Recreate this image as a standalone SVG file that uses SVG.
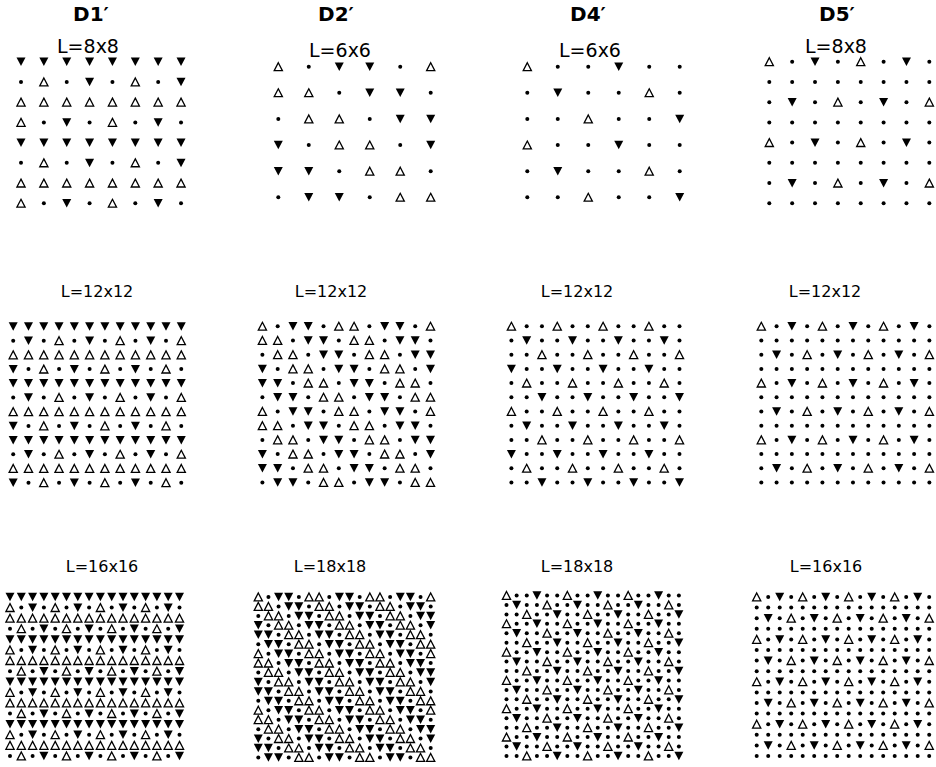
<svg xmlns="http://www.w3.org/2000/svg" xmlns:xlink="http://www.w3.org/1999/xlink" width="936" height="767" viewBox="0 0 936 767">
<style>
.ttl{font-family:"DejaVu Sans","Liberation Sans",sans-serif;font-weight:bold;font-size:20px;text-anchor:middle;fill:#000}
.lbl{font-family:"DejaVu Sans","Liberation Sans",sans-serif;font-size:19px;text-anchor:middle;fill:#000}
.lbl2{font-family:"DejaVu Sans","Liberation Sans",sans-serif;font-size:16px;text-anchor:middle;fill:#000}
.o{fill:none;stroke:#000;stroke-width:1.3;stroke-linejoin:miter}
</style>
<defs>
<path id="v" d="M-4.5-4.2H4.5L0 4.3Z" fill="#000"/>
<path id="a" class="o" d="M0-4L4.1 3.9H-4.1Z"/>
<circle id="d" r="2" fill="#000"/>
<!-- D1' 8x8 rows -->
<g id="g1a"><use href="#v"/><use href="#v" x="22.86"/><use href="#v" x="45.72"/><use href="#v" x="68.58"/><use href="#v" x="91.44"/><use href="#v" x="114.3"/><use href="#v" x="137.16"/><use href="#v" x="160.02"/></g>
<g id="g1b"><use href="#d"/><use href="#a" x="22.86"/><use href="#d" x="45.72"/><use href="#v" x="68.58"/><use href="#d" x="91.44"/><use href="#a" x="114.3"/><use href="#d" x="137.16"/><use href="#v" x="160.02"/></g>
<g id="g1c"><use href="#a"/><use href="#a" x="22.86"/><use href="#a" x="45.72"/><use href="#a" x="68.58"/><use href="#a" x="91.44"/><use href="#a" x="114.3"/><use href="#a" x="137.16"/><use href="#a" x="160.02"/></g>
<g id="g1d"><use href="#a"/><use href="#d" x="22.86"/><use href="#v" x="45.72"/><use href="#d" x="68.58"/><use href="#a" x="91.44"/><use href="#d" x="114.3"/><use href="#v" x="137.16"/><use href="#d" x="160.02"/></g>
<!-- D2' 6x6 rows -->
<g id="h0"><use href="#a"/><use href="#d" x="30.48"/><use href="#v" x="60.96"/><use href="#v" x="91.44"/><use href="#d" x="121.92"/><use href="#a" x="152.4"/></g>
<g id="h1"><use href="#a"/><use href="#a" x="30.48"/><use href="#d" x="60.96"/><use href="#v" x="91.44"/><use href="#v" x="121.92"/><use href="#d" x="152.4"/></g>
<g id="h2"><use href="#d"/><use href="#a" x="30.48"/><use href="#a" x="60.96"/><use href="#d" x="91.44"/><use href="#v" x="121.92"/><use href="#v" x="152.4"/></g>
<g id="h3"><use href="#v"/><use href="#d" x="30.48"/><use href="#a" x="60.96"/><use href="#a" x="91.44"/><use href="#d" x="121.92"/><use href="#v" x="152.4"/></g>
<g id="h4"><use href="#v"/><use href="#v" x="30.48"/><use href="#d" x="60.96"/><use href="#a" x="91.44"/><use href="#a" x="121.92"/><use href="#d" x="152.4"/></g>
<g id="h5"><use href="#d"/><use href="#v" x="30.48"/><use href="#v" x="60.96"/><use href="#d" x="91.44"/><use href="#a" x="121.92"/><use href="#a" x="152.4"/></g>
<!-- D4' 6x6 rows -->
<g id="k0"><use href="#a"/><use href="#d" x="30.48"/><use href="#d" x="60.96"/><use href="#v" x="91.44"/><use href="#d" x="121.92"/><use href="#d" x="152.4"/></g>
<g id="k1"><use href="#d"/><use href="#v" x="30.48"/><use href="#d" x="60.96"/><use href="#d" x="91.44"/><use href="#a" x="121.92"/><use href="#d" x="152.4"/></g>
<g id="k2"><use href="#d"/><use href="#d" x="30.48"/><use href="#a" x="60.96"/><use href="#d" x="91.44"/><use href="#d" x="121.92"/><use href="#v" x="152.4"/></g>
<!-- D5' 8x8 rows -->
<g id="m0"><use href="#a"/><use href="#d" x="22.86"/><use href="#v" x="45.72"/><use href="#d" x="68.58"/><use href="#a" x="91.44"/><use href="#d" x="114.3"/><use href="#v" x="137.16"/><use href="#d" x="160.02"/></g>
<g id="m1"><use href="#d"/><use href="#d" x="22.86"/><use href="#d" x="45.72"/><use href="#d" x="68.58"/><use href="#d" x="91.44"/><use href="#d" x="114.3"/><use href="#d" x="137.16"/><use href="#d" x="160.02"/></g>
<g id="m2"><use href="#d"/><use href="#v" x="22.86"/><use href="#d" x="45.72"/><use href="#a" x="68.58"/><use href="#d" x="91.44"/><use href="#v" x="114.3"/><use href="#d" x="137.16"/><use href="#a" x="160.02"/></g>
<!-- 12x12 rows -->
<g id="n0"><use href="#v"/><use href="#v" x="15.28"/><use href="#v" x="30.56"/><use href="#v" x="45.84"/><use href="#v" x="61.12"/><use href="#v" x="76.4"/><use href="#v" x="91.68"/><use href="#v" x="106.96"/><use href="#v" x="122.24"/><use href="#v" x="137.52"/><use href="#v" x="152.8"/><use href="#v" x="168.08"/></g>
<g id="n1"><use href="#d"/><use href="#v" x="15.28"/><use href="#d" x="30.56"/><use href="#a" x="45.84"/><use href="#d" x="61.12"/><use href="#v" x="76.4"/><use href="#d" x="91.68"/><use href="#a" x="106.96"/><use href="#d" x="122.24"/><use href="#v" x="137.52"/><use href="#d" x="152.8"/><use href="#a" x="168.08"/></g>
<g id="n2"><use href="#a"/><use href="#a" x="15.28"/><use href="#a" x="30.56"/><use href="#a" x="45.84"/><use href="#a" x="61.12"/><use href="#a" x="76.4"/><use href="#a" x="91.68"/><use href="#a" x="106.96"/><use href="#a" x="122.24"/><use href="#a" x="137.52"/><use href="#a" x="152.8"/><use href="#a" x="168.08"/></g>
<g id="n3"><use href="#v"/><use href="#d" x="15.28"/><use href="#a" x="30.56"/><use href="#d" x="45.84"/><use href="#v" x="61.12"/><use href="#d" x="76.4"/><use href="#a" x="91.68"/><use href="#d" x="106.96"/><use href="#v" x="122.24"/><use href="#d" x="137.52"/><use href="#a" x="152.8"/><use href="#d" x="168.08"/></g>
<g id="p0"><use href="#a"/><use href="#d" x="15.28"/><use href="#v" x="30.56"/><use href="#v" x="45.84"/><use href="#d" x="61.12"/><use href="#a" x="76.4"/><use href="#a" x="91.68"/><use href="#d" x="106.96"/><use href="#v" x="122.24"/><use href="#v" x="137.52"/><use href="#d" x="152.8"/><use href="#a" x="168.08"/></g>
<g id="p1"><use href="#a"/><use href="#a" x="15.28"/><use href="#d" x="30.56"/><use href="#v" x="45.84"/><use href="#v" x="61.12"/><use href="#d" x="76.4"/><use href="#a" x="91.68"/><use href="#a" x="106.96"/><use href="#d" x="122.24"/><use href="#v" x="137.52"/><use href="#v" x="152.8"/><use href="#d" x="168.08"/></g>
<g id="p2"><use href="#d"/><use href="#a" x="15.28"/><use href="#a" x="30.56"/><use href="#d" x="45.84"/><use href="#v" x="61.12"/><use href="#v" x="76.4"/><use href="#d" x="91.68"/><use href="#a" x="106.96"/><use href="#a" x="122.24"/><use href="#d" x="137.52"/><use href="#v" x="152.8"/><use href="#v" x="168.08"/></g>
<g id="p3"><use href="#v"/><use href="#d" x="15.28"/><use href="#a" x="30.56"/><use href="#a" x="45.84"/><use href="#d" x="61.12"/><use href="#v" x="76.4"/><use href="#v" x="91.68"/><use href="#d" x="106.96"/><use href="#a" x="122.24"/><use href="#a" x="137.52"/><use href="#d" x="152.8"/><use href="#v" x="168.08"/></g>
<g id="p4"><use href="#v"/><use href="#v" x="15.28"/><use href="#d" x="30.56"/><use href="#a" x="45.84"/><use href="#a" x="61.12"/><use href="#d" x="76.4"/><use href="#v" x="91.68"/><use href="#v" x="106.96"/><use href="#d" x="122.24"/><use href="#a" x="137.52"/><use href="#a" x="152.8"/><use href="#d" x="168.08"/></g>
<g id="p5"><use href="#d"/><use href="#v" x="15.28"/><use href="#v" x="30.56"/><use href="#d" x="45.84"/><use href="#a" x="61.12"/><use href="#a" x="76.4"/><use href="#d" x="91.68"/><use href="#v" x="106.96"/><use href="#v" x="122.24"/><use href="#d" x="137.52"/><use href="#a" x="152.8"/><use href="#a" x="168.08"/></g>
<g id="q0"><use href="#a"/><use href="#d" x="15.28"/><use href="#d" x="30.56"/><use href="#a" x="45.84"/><use href="#d" x="61.12"/><use href="#d" x="76.4"/><use href="#a" x="91.68"/><use href="#d" x="106.96"/><use href="#d" x="122.24"/><use href="#a" x="137.52"/><use href="#d" x="152.8"/><use href="#d" x="168.08"/></g>
<g id="q1"><use href="#d"/><use href="#v" x="15.28"/><use href="#d" x="30.56"/><use href="#d" x="45.84"/><use href="#v" x="61.12"/><use href="#d" x="76.4"/><use href="#d" x="91.68"/><use href="#v" x="106.96"/><use href="#d" x="122.24"/><use href="#d" x="137.52"/><use href="#v" x="152.8"/><use href="#d" x="168.08"/></g>
<g id="q2"><use href="#d"/><use href="#d" x="15.28"/><use href="#a" x="30.56"/><use href="#d" x="45.84"/><use href="#d" x="61.12"/><use href="#a" x="76.4"/><use href="#d" x="91.68"/><use href="#d" x="106.96"/><use href="#a" x="122.24"/><use href="#d" x="137.52"/><use href="#d" x="152.8"/><use href="#a" x="168.08"/></g>
<g id="q3"><use href="#v"/><use href="#d" x="15.28"/><use href="#d" x="30.56"/><use href="#v" x="45.84"/><use href="#d" x="61.12"/><use href="#d" x="76.4"/><use href="#v" x="91.68"/><use href="#d" x="106.96"/><use href="#d" x="122.24"/><use href="#v" x="137.52"/><use href="#d" x="152.8"/><use href="#d" x="168.08"/></g>
<g id="q4"><use href="#d"/><use href="#a" x="15.28"/><use href="#d" x="30.56"/><use href="#d" x="45.84"/><use href="#a" x="61.12"/><use href="#d" x="76.4"/><use href="#d" x="91.68"/><use href="#a" x="106.96"/><use href="#d" x="122.24"/><use href="#d" x="137.52"/><use href="#a" x="152.8"/><use href="#d" x="168.08"/></g>
<g id="q5"><use href="#d"/><use href="#d" x="15.28"/><use href="#v" x="30.56"/><use href="#d" x="45.84"/><use href="#d" x="61.12"/><use href="#v" x="76.4"/><use href="#d" x="91.68"/><use href="#d" x="106.96"/><use href="#v" x="122.24"/><use href="#d" x="137.52"/><use href="#d" x="152.8"/><use href="#v" x="168.08"/></g>
<g id="r0"><use href="#a"/><use href="#d" x="15.28"/><use href="#v" x="30.56"/><use href="#d" x="45.84"/><use href="#a" x="61.12"/><use href="#d" x="76.4"/><use href="#v" x="91.68"/><use href="#d" x="106.96"/><use href="#a" x="122.24"/><use href="#d" x="137.52"/><use href="#v" x="152.8"/><use href="#d" x="168.08"/></g>
<g id="r1"><use href="#d"/><use href="#d" x="15.28"/><use href="#d" x="30.56"/><use href="#d" x="45.84"/><use href="#d" x="61.12"/><use href="#d" x="76.4"/><use href="#d" x="91.68"/><use href="#d" x="106.96"/><use href="#d" x="122.24"/><use href="#d" x="137.52"/><use href="#d" x="152.8"/><use href="#d" x="168.08"/></g>
<!-- D1' 16x16 rows -->
<g id="s0"><use href="#v"/><use href="#v" x="11.3"/><use href="#v" x="22.6"/><use href="#v" x="33.9"/><use href="#v" x="45.2"/><use href="#v" x="56.5"/><use href="#v" x="67.8"/><use href="#v" x="79.1"/><use href="#v" x="90.4"/><use href="#v" x="101.7"/><use href="#v" x="113"/><use href="#v" x="124.3"/><use href="#v" x="135.6"/><use href="#v" x="146.9"/><use href="#v" x="158.2"/><use href="#v" x="169.5"/></g>
<g id="s1"><use href="#a"/><use href="#d" x="11.3"/><use href="#v" x="22.6"/><use href="#d" x="33.9"/><use href="#a" x="45.2"/><use href="#d" x="56.5"/><use href="#v" x="67.8"/><use href="#d" x="79.1"/><use href="#a" x="90.4"/><use href="#d" x="101.7"/><use href="#v" x="113"/><use href="#d" x="124.3"/><use href="#a" x="135.6"/><use href="#d" x="146.9"/><use href="#v" x="158.2"/><use href="#d" x="169.5"/></g>
<g id="s2"><use href="#a"/><use href="#a" x="11.3"/><use href="#a" x="22.6"/><use href="#a" x="33.9"/><use href="#a" x="45.2"/><use href="#a" x="56.5"/><use href="#a" x="67.8"/><use href="#a" x="79.1"/><use href="#a" x="90.4"/><use href="#a" x="101.7"/><use href="#a" x="113"/><use href="#a" x="124.3"/><use href="#a" x="135.6"/><use href="#a" x="146.9"/><use href="#a" x="158.2"/><use href="#a" x="169.5"/></g>
<g id="s3"><use href="#d"/><use href="#a" x="11.3"/><use href="#d" x="22.6"/><use href="#v" x="33.9"/><use href="#d" x="45.2"/><use href="#a" x="56.5"/><use href="#d" x="67.8"/><use href="#v" x="79.1"/><use href="#d" x="90.4"/><use href="#a" x="101.7"/><use href="#d" x="113"/><use href="#v" x="124.3"/><use href="#d" x="135.6"/><use href="#a" x="146.9"/><use href="#d" x="158.2"/><use href="#v" x="169.5"/></g>
<!-- D5' 16x16 rows -->
<g id="t0"><use href="#a"/><use href="#d" x="11.5"/><use href="#v" x="23"/><use href="#d" x="34.5"/><use href="#a" x="46"/><use href="#d" x="57.5"/><use href="#v" x="69"/><use href="#d" x="80.5"/><use href="#a" x="92"/><use href="#d" x="103.5"/><use href="#v" x="115"/><use href="#d" x="126.5"/><use href="#a" x="138"/><use href="#d" x="149.5"/><use href="#v" x="161"/><use href="#d" x="172.5"/></g>
<g id="t1"><use href="#d"/><use href="#d" x="11.5"/><use href="#d" x="23"/><use href="#d" x="34.5"/><use href="#d" x="46"/><use href="#d" x="57.5"/><use href="#d" x="69"/><use href="#d" x="80.5"/><use href="#d" x="92"/><use href="#d" x="103.5"/><use href="#d" x="115"/><use href="#d" x="126.5"/><use href="#d" x="138"/><use href="#d" x="149.5"/><use href="#d" x="161"/><use href="#d" x="172.5"/></g>
<g id="t2"><use href="#d"/><use href="#v" x="11.5"/><use href="#d" x="23"/><use href="#a" x="34.5"/><use href="#d" x="46"/><use href="#v" x="57.5"/><use href="#d" x="69"/><use href="#a" x="80.5"/><use href="#d" x="92"/><use href="#v" x="103.5"/><use href="#d" x="115"/><use href="#a" x="126.5"/><use href="#d" x="138"/><use href="#v" x="149.5"/><use href="#d" x="161"/><use href="#a" x="172.5"/></g>
<!-- 18x18 rows -->
<g id="u0"><use href="#a"/><use href="#d" x="10.14"/><use href="#v" x="20.28"/><use href="#v" x="30.42"/><use href="#d" x="40.56"/><use href="#a" x="50.7"/><use href="#a" x="60.84"/><use href="#d" x="70.98"/><use href="#v" x="81.12"/><use href="#v" x="91.26"/><use href="#d" x="101.4"/><use href="#a" x="111.54"/><use href="#a" x="121.68"/><use href="#d" x="131.82"/><use href="#v" x="141.96"/><use href="#v" x="152.1"/><use href="#d" x="162.24"/><use href="#a" x="172.38"/></g>
<g id="u1"><use href="#a"/><use href="#a" x="10.14"/><use href="#d" x="20.28"/><use href="#v" x="30.42"/><use href="#v" x="40.56"/><use href="#d" x="50.7"/><use href="#a" x="60.84"/><use href="#a" x="70.98"/><use href="#d" x="81.12"/><use href="#v" x="91.26"/><use href="#v" x="101.4"/><use href="#d" x="111.54"/><use href="#a" x="121.68"/><use href="#a" x="131.82"/><use href="#d" x="141.96"/><use href="#v" x="152.1"/><use href="#v" x="162.24"/><use href="#d" x="172.38"/></g>
<g id="u2"><use href="#d"/><use href="#a" x="10.14"/><use href="#a" x="20.28"/><use href="#d" x="30.42"/><use href="#v" x="40.56"/><use href="#v" x="50.7"/><use href="#d" x="60.84"/><use href="#a" x="70.98"/><use href="#a" x="81.12"/><use href="#d" x="91.26"/><use href="#v" x="101.4"/><use href="#v" x="111.54"/><use href="#d" x="121.68"/><use href="#a" x="131.82"/><use href="#a" x="141.96"/><use href="#d" x="152.1"/><use href="#v" x="162.24"/><use href="#v" x="172.38"/></g>
<g id="u3"><use href="#v"/><use href="#d" x="10.14"/><use href="#a" x="20.28"/><use href="#a" x="30.42"/><use href="#d" x="40.56"/><use href="#v" x="50.7"/><use href="#v" x="60.84"/><use href="#d" x="70.98"/><use href="#a" x="81.12"/><use href="#a" x="91.26"/><use href="#d" x="101.4"/><use href="#v" x="111.54"/><use href="#v" x="121.68"/><use href="#d" x="131.82"/><use href="#a" x="141.96"/><use href="#a" x="152.1"/><use href="#d" x="162.24"/><use href="#v" x="172.38"/></g>
<g id="u4"><use href="#v"/><use href="#v" x="10.14"/><use href="#d" x="20.28"/><use href="#a" x="30.42"/><use href="#a" x="40.56"/><use href="#d" x="50.7"/><use href="#v" x="60.84"/><use href="#v" x="70.98"/><use href="#d" x="81.12"/><use href="#a" x="91.26"/><use href="#a" x="101.4"/><use href="#d" x="111.54"/><use href="#v" x="121.68"/><use href="#v" x="131.82"/><use href="#d" x="141.96"/><use href="#a" x="152.1"/><use href="#a" x="162.24"/><use href="#d" x="172.38"/></g>
<g id="u5"><use href="#d"/><use href="#v" x="10.14"/><use href="#v" x="20.28"/><use href="#d" x="30.42"/><use href="#a" x="40.56"/><use href="#a" x="50.7"/><use href="#d" x="60.84"/><use href="#v" x="70.98"/><use href="#v" x="81.12"/><use href="#d" x="91.26"/><use href="#a" x="101.4"/><use href="#a" x="111.54"/><use href="#d" x="121.68"/><use href="#v" x="131.82"/><use href="#v" x="141.96"/><use href="#d" x="152.1"/><use href="#a" x="162.24"/><use href="#a" x="172.38"/></g>
<g id="w0"><use href="#a"/><use href="#d" x="10.14"/><use href="#d" x="20.28"/><use href="#v" x="30.42"/><use href="#d" x="40.56"/><use href="#d" x="50.7"/><use href="#a" x="60.84"/><use href="#d" x="70.98"/><use href="#d" x="81.12"/><use href="#v" x="91.26"/><use href="#d" x="101.4"/><use href="#d" x="111.54"/><use href="#a" x="121.68"/><use href="#d" x="131.82"/><use href="#d" x="141.96"/><use href="#v" x="152.1"/><use href="#d" x="162.24"/><use href="#d" x="172.38"/></g>
<g id="w1"><use href="#d"/><use href="#v" x="10.14"/><use href="#d" x="20.28"/><use href="#d" x="30.42"/><use href="#a" x="40.56"/><use href="#d" x="50.7"/><use href="#d" x="60.84"/><use href="#v" x="70.98"/><use href="#d" x="81.12"/><use href="#d" x="91.26"/><use href="#a" x="101.4"/><use href="#d" x="111.54"/><use href="#d" x="121.68"/><use href="#v" x="131.82"/><use href="#d" x="141.96"/><use href="#d" x="152.1"/><use href="#a" x="162.24"/><use href="#d" x="172.38"/></g>
<g id="w2"><use href="#d"/><use href="#d" x="10.14"/><use href="#a" x="20.28"/><use href="#d" x="30.42"/><use href="#d" x="40.56"/><use href="#v" x="50.7"/><use href="#d" x="60.84"/><use href="#d" x="70.98"/><use href="#a" x="81.12"/><use href="#d" x="91.26"/><use href="#d" x="101.4"/><use href="#v" x="111.54"/><use href="#d" x="121.68"/><use href="#d" x="131.82"/><use href="#a" x="141.96"/><use href="#d" x="152.1"/><use href="#d" x="162.24"/><use href="#v" x="172.38"/></g>
</defs>
<rect width="936" height="767" fill="#fff"/>

<g id="titles">
<text class="ttl" x="91" y="21">D1′</text>
<text class="ttl" x="336" y="21">D2′</text>
<text class="ttl" x="588" y="21">D4′</text>
<text class="ttl" x="837" y="21">D5′</text>
</g>

<!-- Row 1 -->
<g id="D1-L8">
<text class="lbl" x="88" y="53">L=8x8</text>
<g transform="translate(21 61.7)"><use href="#g1a"/><use href="#g1b" y="20.23"/><use href="#g1c" y="40.46"/><use href="#g1d" y="60.69"/><use href="#g1a" y="80.92"/><use href="#g1b" y="101.15"/><use href="#g1c" y="121.38"/><use href="#g1d" y="141.61"/></g>
</g>
<g id="D2-L6">
<text class="lbl" x="340" y="57">L=6x6</text>
<g transform="translate(278.3 66.7)"><use href="#h0"/><use href="#h1" y="26.12"/><use href="#h2" y="52.24"/><use href="#h3" y="78.36"/><use href="#h4" y="104.48"/><use href="#h5" y="130.6"/></g>
</g>
<g id="D4-L6">
<text class="lbl" x="590" y="57">L=6x6</text>
<g transform="translate(527.3 66.7)"><use href="#k0"/><use href="#k1" y="26.12"/><use href="#k2" y="52.24"/><use href="#k0" y="78.36"/><use href="#k1" y="104.48"/><use href="#k2" y="130.6"/></g>
</g>
<g id="D5-L8">
<text class="lbl" x="836" y="53">L=8x8</text>
<g transform="translate(769.3 61.7)"><use href="#m0"/><use href="#m1" y="20.23"/><use href="#m2" y="40.46"/><use href="#m1" y="60.69"/><use href="#m0" y="80.92"/><use href="#m1" y="101.15"/><use href="#m2" y="121.38"/><use href="#m1" y="141.61"/></g>
</g>

<!-- Row 2 -->
<g id="D1-L12">
<text class="lbl2" x="97" y="297">L=12x12</text>
<g transform="translate(13.2 326.5)"><use href="#n0"/><use href="#n1" y="14.2"/><use href="#n2" y="28.4"/><use href="#n3" y="42.6"/><use href="#n0" y="56.8"/><use href="#n1" y="71"/><use href="#n2" y="85.2"/><use href="#n3" y="99.4"/><use href="#n0" y="113.6"/><use href="#n1" y="127.8"/><use href="#n2" y="142"/><use href="#n3" y="156.2"/></g>
</g>
<g id="D2-L12">
<text class="lbl2" x="331" y="297">L=12x12</text>
<g transform="translate(262.4 326.3)"><use href="#p0"/><use href="#p1" y="14.2"/><use href="#p2" y="28.4"/><use href="#p3" y="42.6"/><use href="#p4" y="56.8"/><use href="#p5" y="71"/><use href="#p0" y="85.2"/><use href="#p1" y="99.4"/><use href="#p2" y="113.6"/><use href="#p3" y="127.8"/><use href="#p4" y="142"/><use href="#p5" y="156.2"/></g>
</g>
<g id="D4-L12">
<text class="lbl2" x="577" y="297">L=12x12</text>
<g transform="translate(511.4 326.3)"><use href="#q0"/><use href="#q1" y="14.2"/><use href="#q2" y="28.4"/><use href="#q3" y="42.6"/><use href="#q4" y="56.8"/><use href="#q5" y="71"/><use href="#q0" y="85.2"/><use href="#q1" y="99.4"/><use href="#q2" y="113.6"/><use href="#q3" y="127.8"/><use href="#q4" y="142"/><use href="#q5" y="156.2"/></g>
</g>
<g id="D5-L12">
<text class="lbl2" x="825" y="297">L=12x12</text>
<g transform="translate(761.3 326.3)"><use href="#r0"/><use href="#r1" y="14.2"/><use href="#n1" y="28.4"/><use href="#r1" y="42.6"/><use href="#r0" y="56.8"/><use href="#r1" y="71"/><use href="#n1" y="85.2"/><use href="#r1" y="99.4"/><use href="#r0" y="113.6"/><use href="#r1" y="127.8"/><use href="#n1" y="142"/><use href="#r1" y="156.2"/></g>
</g>

<!-- Row 3 -->
<g id="D1-L16">
<text class="lbl2" x="102" y="572">L=16x16</text>
<g transform="translate(10 597)"><use href="#s0"/><use href="#s1" y="10.6"/><use href="#s2" y="21.2"/><use href="#s3" y="31.8"/><use href="#s0" y="42.4"/><use href="#s1" y="53"/><use href="#s2" y="63.6"/><use href="#s3" y="74.2"/><use href="#s0" y="84.8"/><use href="#s1" y="95.4"/><use href="#s2" y="106"/><use href="#s3" y="116.6"/><use href="#s0" y="127.2"/><use href="#s1" y="137.8"/><use href="#s2" y="148.4"/><use href="#s3" y="159"/></g>
</g>
<g id="D2-L18">
<text class="lbl2" x="330" y="572">L=18x18</text>
<g transform="translate(258.3 597)"><use href="#u0"/><use href="#u1" y="9.44"/><use href="#u2" y="18.88"/><use href="#u3" y="28.32"/><use href="#u4" y="37.76"/><use href="#u5" y="47.2"/><use href="#u0" y="56.64"/><use href="#u1" y="66.08"/><use href="#u2" y="75.52"/><use href="#u3" y="84.96"/><use href="#u4" y="94.4"/><use href="#u5" y="103.84"/><use href="#u0" y="113.28"/><use href="#u1" y="122.72"/><use href="#u2" y="132.16"/><use href="#u3" y="141.6"/><use href="#u4" y="151.04"/><use href="#u5" y="160.48"/></g>
</g>
<g id="D4-L18">
<text class="lbl2" x="577" y="572">L=18x18</text>
<g transform="translate(506.5 595.5)"><use href="#w0"/><use href="#w1" y="9.44"/><use href="#w2" y="18.88"/><use href="#w0" y="28.32"/><use href="#w1" y="37.76"/><use href="#w2" y="47.2"/><use href="#w0" y="56.64"/><use href="#w1" y="66.08"/><use href="#w2" y="75.52"/><use href="#w0" y="84.96"/><use href="#w1" y="94.4"/><use href="#w2" y="103.84"/><use href="#w0" y="113.28"/><use href="#w1" y="122.72"/><use href="#w2" y="132.16"/><use href="#w0" y="141.6"/><use href="#w1" y="151.04"/><use href="#w2" y="160.48"/></g>
</g>
<g id="D5-L16">
<text class="lbl2" x="826" y="572">L=16x16</text>
<g transform="translate(756.7 597)"><use href="#t0"/><use href="#t1" y="10.6"/><use href="#t2" y="21.2"/><use href="#t1" y="31.8"/><use href="#t0" y="42.4"/><use href="#t1" y="53"/><use href="#t2" y="63.6"/><use href="#t1" y="74.2"/><use href="#t0" y="84.8"/><use href="#t1" y="95.4"/><use href="#t2" y="106"/><use href="#t1" y="116.6"/><use href="#t0" y="127.2"/><use href="#t1" y="137.8"/><use href="#t2" y="148.4"/><use href="#t1" y="159"/></g>
</g>
</svg>
